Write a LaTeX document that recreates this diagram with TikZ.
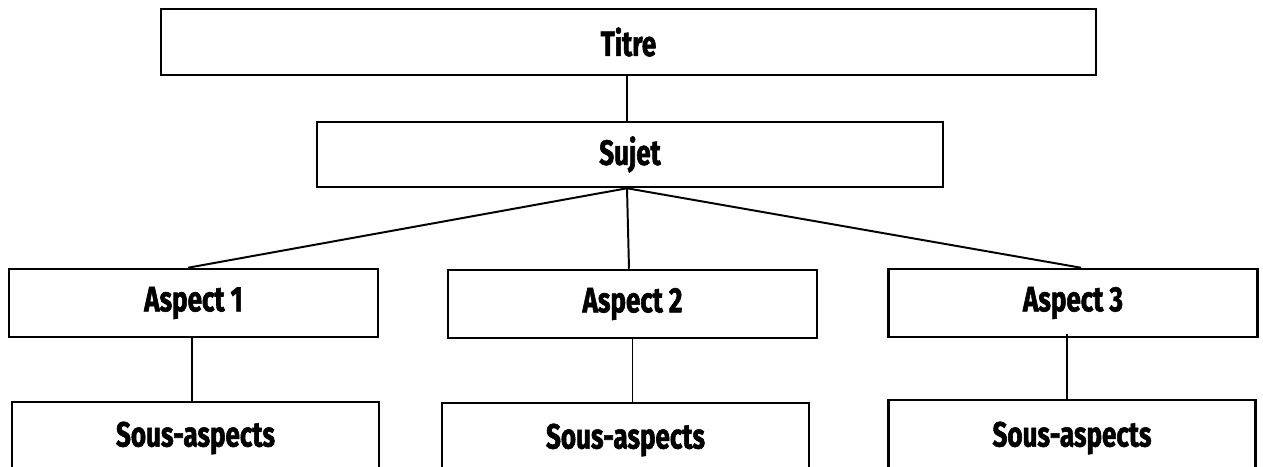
\documentclass[tikz,border=0pt]{standalone}
\usepackage{fontspec}
\newfontfamily\BoxFont[FakeStretch=0.74, FakeBold=1.6]{Fira Sans}
\usepackage{tikz}
\tikzstyle{every picture}+=[line join=miter]

\newcommand{\Px}{0.025cm}

\begin{document}
\begin{tikzpicture}
	[x=\Px, y=-\Px,
	 box/.style={draw, line width=1.8pt, inner sep=0pt,
	 	font=\BoxFont\bfseries\fontsize{25}{30}\selectfont},
	 link/.style={line width=1.4pt}]

	% frame of the page
	\useasboundingbox (0,0) rectangle (1263,467);
	\clip (0,0) rectangle (1263,467);

	% top levels
	\begin{scope}
		\node[box, minimum width=935*\Px, minimum height=66*\Px] (titre) at (628.5,42) {Titre};
		\node[box, minimum width=626*\Px, minimum height=65*\Px] (sujet) at (630,154.5) {Sujet};
	\end{scope}

	% aspects
	\begin{scope}
		\foreach \n/\x/\y in {1/193.5/303, 2/632.5/304, 3/1073/303} {
			\node[box, minimum width=369*\Px, minimum height=68*\Px] (aspect\n) at (\x,\y) {Aspect \n};
		}
	\end{scope}

	% sous-aspects (cut by the page bottom)
	\begin{scope}
		\foreach \n/\x/\y/\h in {1/195.5/438/72, 2/625.5/440/74, 3/1072/438/76} {
			\node[box, minimum width=367*\Px, minimum height=\h*\Px] (sous\n) at (\x,\y) {Sous-aspects};
		}
	\end{scope}

	% links
	\begin{scope}[link]
		\draw (titre.south -| 627,0) -- (sujet.north -| 627,0);

		\coordinate (fork) at (sujet.south -| 627,0);
		\draw (fork) -- ([xshift=-5.5*\Px]aspect1.north);
		\draw (fork) -- ([xshift=-3.5*\Px]aspect2.north);
		\draw (fork) -- ([xshift=8*\Px]aspect3.north);

		\draw ([xshift=-1.5*\Px]aspect1.south) -- ([xshift=-1.5*\Px]aspect1.south |- sous1.north);
		\draw (aspect2.south) -- (aspect2.south |- sous2.north);
		\draw ([xshift=-6*\Px, yshift=4*\Px]aspect3.south) -- ([xshift=-6*\Px]aspect3.south |- sous3.north);
	\end{scope}

\end{tikzpicture}
\end{document}
